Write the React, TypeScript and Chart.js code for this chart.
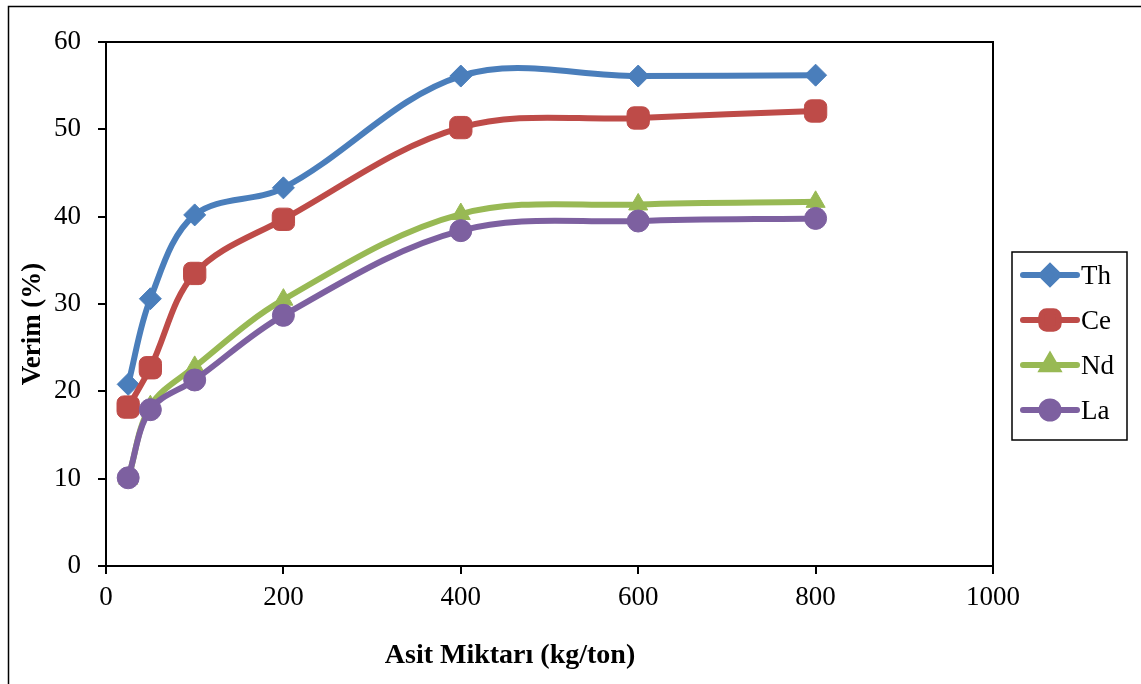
import React, { useEffect, useRef } from "react";
import { Chart, registerables } from "chart.js";
import { drawPoint } from "chart.js/helpers";

Chart.register(...registerables);

const xValues = [25, 50, 100, 200, 400, 600, 800];
const thValues = [20.8, 30.6, 40.2, 43.3, 56.1, 56.1, 56.2];
const ceValues = [18.2, 22.7, 33.5, 39.7, 50.2, 51.3, 52.1];
const ndValues = [10.0, 18.3, 22.8, 30.5, 40.3, 41.4, 41.7];
const laValues = [10.1, 17.9, 21.3, 28.7, 38.4, 39.5, 39.8];
const seriesNames = ["Th", "Ce", "Nd", "La"];
const seriesColors = ["#4A7EBB", "#BE4B48", "#98B954", "#7D60A0"];
const pointStyles = ["rectRot", "rectRounded", "triangle", "circle"];
const pointRadii = [11, 13, 11, 11];
const xTitle = "Asit Miktarı (kg/ton)";
const yTitle = "Verim (%)";

const FONT = "'Liberation Serif', 'Times New Roman', serif";

const decorPlugin = {
  id: "decor",
  beforeDatasetsDraw(chart: any) {
    const { ctx, chartArea } = chart;
    ctx.save();
    ctx.strokeStyle = "#000";
    ctx.lineWidth = 1.5;
    ctx.strokeRect(8.5, 6.5, 1200, 800);
    ctx.lineWidth = 2;
    ctx.strokeRect(chartArea.left, chartArea.top, chartArea.right - chartArea.left, chartArea.bottom - chartArea.top);
    ctx.restore();
  },
  afterDraw(chart: any) {
    const { ctx } = chart;
    ctx.save();
    ctx.fillStyle = "#000";
    ctx.font = `bold 28px ${FONT}`;
    ctx.textAlign = "center";
    ctx.textBaseline = "middle";
    ctx.fillText(xTitle, 510, 656);
    ctx.save();
    ctx.font = `bold 27px ${FONT}`;
    ctx.translate(33, 324);
    ctx.rotate(-Math.PI / 2);
    ctx.fillText(yTitle, 0, 0);
    ctx.restore();

    // legend
    ctx.strokeStyle = "#000";
    ctx.lineWidth = 1.5;
    ctx.strokeRect(1012, 252, 115, 188);
    seriesNames.forEach((name: string, i: number) => {
      const y = 275 + i * 45;
      const color = seriesColors[i];
      ctx.strokeStyle = color;
      ctx.lineWidth = 6;
      ctx.lineCap = "round";
      ctx.beginPath();
      ctx.moveTo(1023, y);
      ctx.lineTo(1077, y);
      ctx.stroke();
      ctx.fillStyle = color;
      drawPoint(ctx, { pointStyle: pointStyles[i], radius: pointRadii[i] * 0.78, rotation: 0, borderWidth: 1 } as any, 1050, y);
      ctx.fillStyle = "#000";
      ctx.font = `27px ${FONT}`;
      ctx.textAlign = "left";
      ctx.textBaseline = "middle";
      ctx.fillText(name, 1081, y + 2);
    });
    ctx.restore();
  },
};

export default function App() {
  const ref = useRef<HTMLCanvasElement>(null);
  useEffect(() => {
    const all = [thValues, ceValues, ndValues, laValues];
    const chart = new Chart(ref.current!, {
      type: "line",
      data: {
        datasets: all.map((vals, i) => ({
          label: seriesNames[i],
          data: xValues.map((x, j) => ({ x, y: vals[j] })),
          borderColor: seriesColors[i],
          backgroundColor: seriesColors[i],
          pointBackgroundColor: seriesColors[i],
          pointBorderColor: seriesColors[i],
          pointStyle: pointStyles[i] as any,
          pointRadius: pointRadii[i],
          pointBorderWidth: 1,
          borderWidth: 6,
          tension: 0.35,
          fill: false,
          order: -i,
        })),
      },
      options: {
        animation: false,
        responsive: false,
        layout: { padding: { left: 0, right: 148, top: 42, bottom: 0 } },
        plugins: { legend: { display: false }, tooltip: { enabled: false } },
        scales: {
          x: {
            type: "linear",
            min: 0,
            max: 1000,
            ticks: { stepSize: 200, color: "#000", font: { family: FONT, size: 27 }, padding: 8, maxRotation: 0, callback: (v: any) => String(v) },
            grid: { drawOnChartArea: false, drawTicks: true, tickLength: 8, color: "#000", lineWidth: 2 },
            border: { display: false },
            afterFit: (s: any) => { s.height = 118; },
          },
          y: {
            min: 0,
            max: 60,
            ticks: { stepSize: 10, color: "#000", font: { family: FONT, size: 27 }, padding: 17, callback: (v: any) => String(v) },
            grid: { drawOnChartArea: false, drawTicks: true, tickLength: 8, color: "#000", lineWidth: 2 },
            border: { display: false },
            afterFit: (s: any) => { s.width = 106; },
          },
        },
      },
      plugins: [decorPlugin],
    });
    return () => chart.destroy();
  }, []);
  return (
    <div style={{ position: "fixed", left: 0, top: 0, width: 1141, height: 684, background: "#fff" }}>
      <canvas ref={ref} width={1141} height={684} style={{ width: 1141, height: 684, display: "block" }} />
    </div>
  );
}
